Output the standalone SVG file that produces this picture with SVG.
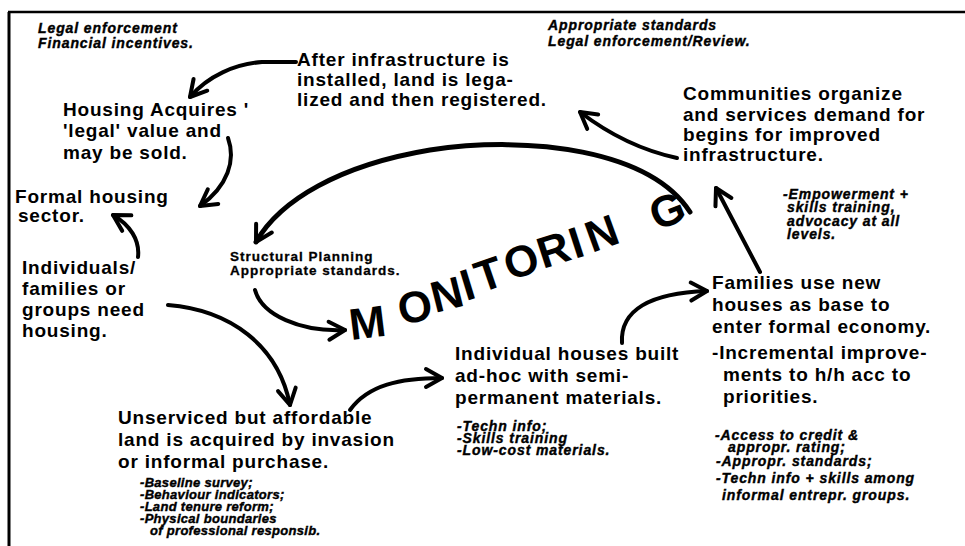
<svg xmlns="http://www.w3.org/2000/svg" width="965" height="546" viewBox="0 0 965 546">
<style>
.m{font-family:"Liberation Sans",Arial,sans-serif;font-weight:bold;font-size:19px;letter-spacing:0.8px;fill:#000}
.s{font-family:"Liberation Sans",Arial,sans-serif;font-weight:bold;font-style:italic;font-size:14px;letter-spacing:0.9px;fill:#000;stroke:#000;stroke-width:0.4}
.t{font-family:"Liberation Sans",Arial,sans-serif;font-weight:bold;font-style:italic;font-size:13px;letter-spacing:0.3px;fill:#000;stroke:#000;stroke-width:0.4}
.p{font-family:"Liberation Sans",Arial,sans-serif;font-weight:bold;font-size:13.5px;letter-spacing:1px;fill:#000;stroke:#000;stroke-width:0.3}
.big{font-family:"Liberation Sans",Arial,sans-serif;font-weight:bold;font-size:44px;fill:#000}
.c{fill:none;stroke:#000;stroke-width:4;stroke-linecap:round}
</style>
<defs>
<marker id="ah" viewBox="0 0 24 24" refX="20" refY="12" markerWidth="24" markerHeight="24" markerUnits="userSpaceOnUse" orient="auto">
<path d="M4,3 L20,12 L4,21" fill="none" stroke="#000" stroke-width="4" stroke-linecap="round" stroke-linejoin="round"/>
</marker>
</defs>
<rect width="965" height="546" fill="#fff"/>
<g id="frame">
<path d="M8,12 L965,12" stroke="#000" stroke-width="2.5"/>
<path d="M9,12 L9,546" stroke="#000" stroke-width="3"/>
</g>
<g id="connectors">
<path class="c" d="M296,62 L262,62 C235,64 208,76 190,97" marker-end="url(#ah)"/>
<path class="c" d="M228,138 C236,160 228,186 200,206" marker-end="url(#ah)"/>
<path class="c" d="M138,257 C140,240 130,225 113,215" marker-end="url(#ah)"/>
<path class="c" d="M168,305 C230,310 278,345 290,405" marker-end="url(#ah)"/>
<path class="c" d="M350,410 C368,385 400,378 442,378" marker-end="url(#ah)"/>
<path class="c" d="M622,343 C620,310 650,293 707,291" marker-end="url(#ah)"/>
<path class="c" d="M760,272 L716,188" marker-end="url(#ah)"/>
<path class="c" d="M677,158 C640,150 610,135 580,112" marker-end="url(#ah)"/>
<path class="c" style="stroke-width:5" d="M690,212 C650,150 530,135 430,150 C340,165 280,200 256,242" marker-end="url(#ah)"/>
<path class="c" d="M255,290 C262,315 300,332 345,330" marker-end="url(#ah)"/>
</g>
<g id="monitoring">
<text class="big" transform="translate(351,340) rotate(-7)">M</text>
<text class="big" transform="translate(401,325) rotate(-11)">O</text>
<text class="big" transform="translate(435,313) rotate(-14)">N</text>
<text class="big" transform="translate(466,301) rotate(-17)">I</text>
<text class="big" transform="translate(481,293) rotate(-19)">T</text>
<text class="big" transform="translate(510,281) rotate(-19)">O</text>
<text class="big" transform="translate(543,269) rotate(-18)">R</text>
<text class="big" transform="translate(575,259) rotate(-18)">I</text>
<text class="big" transform="translate(592,253) rotate(-20)">N</text>
<text class="big" transform="translate(657,231) rotate(-22)">G</text>
</g>
<g id="note-topleft">
<text class="s" x="38" y="33">Legal enforcement</text>
<text class="s" x="38" y="48">Financial incentives.</text>
</g>
<g id="note-topright">
<text class="s" x="548" y="30">Appropriate standards</text>
<text class="s" x="548" y="46">Legal enforcement/Review.</text>
</g>
<g id="node-after">
<text class="m" x="297" y="66">After infrastructure is</text>
<text class="m" x="297" y="86">installed, land is lega-</text>
<text class="m" x="297" y="106">lized and then registered.</text>
</g>
<g id="node-housing">
<text class="m" x="63" y="116">Housing Acquires '</text>
<text class="m" x="63" y="137">'legal' value and</text>
<text class="m" x="63" y="159">may be sold.</text>
</g>
<g id="node-formal">
<text class="m" x="15" y="203">Formal housing</text>
<text class="m" x="18" y="222">sector.</text>
</g>
<g id="node-individuals">
<text class="m" x="22" y="274">Individuals/</text>
<text class="m" x="22" y="295">families or</text>
<text class="m" x="22" y="316">groups need</text>
<text class="m" x="22" y="337">housing.</text>
</g>
<g id="node-communities">
<text class="m" x="683" y="100">Communities organize</text>
<text class="m" x="683" y="121">and services demand for</text>
<text class="m" x="683" y="141">begins for improved</text>
<text class="m" x="683" y="161">infrastructure.</text>
</g>
<g id="note-empowerment">
<text class="s" x="783" y="199">-Empowerment +</text>
<text class="s" x="787" y="212">skills training,</text>
<text class="s" x="787" y="226">advocacy at all</text>
<text class="s" x="787" y="239">levels.</text>
</g>
<g id="note-structural">
<text class="p" x="230" y="261">Structural Planning</text>
<text class="p" x="230" y="275">Appropriate standards.</text>
</g>
<g id="node-families">
<text class="m" x="712" y="289">Families use new</text>
<text class="m" x="712" y="311">houses as base to</text>
<text class="m" x="712" y="333">enter formal economy.</text>
<text class="m" x="712" y="359">-Incremental improve-</text>
<text class="m" x="723" y="381">ments to h/h acc to</text>
<text class="m" x="723" y="403">priorities.</text>
</g>
<g id="node-individual-houses">
<text class="m" x="455" y="360">Individual houses built</text>
<text class="m" x="455" y="382">ad-hoc with semi-</text>
<text class="m" x="455" y="404">permanent materials.</text>
</g>
<g id="note-techn">
<text class="s" x="457" y="431">-Techn info;</text>
<text class="s" x="457" y="443">-Skills training</text>
<text class="s" x="457" y="455">-Low-cost materials.</text>
</g>
<g id="note-access">
<text class="s" x="715" y="440">-Access to credit &amp;</text>
<text class="s" x="728" y="452">appropr. rating;</text>
<text class="s" x="716" y="466">-Appropr. standards;</text>
<text class="s" x="716" y="483">-Techn info + skills among</text>
<text class="s" x="722" y="500">informal entrepr. groups.</text>
</g>
<g id="node-unserviced">
<text class="m" x="118" y="424">Unserviced but affordable</text>
<text class="m" x="118" y="446">land is acquired by invasion</text>
<text class="m" x="118" y="468">or informal purchase.</text>
</g>
<g id="note-baseline">
<text class="t" x="140" y="487">-Baseline survey;</text>
<text class="t" x="140" y="499">-Behaviour indicators;</text>
<text class="t" x="140" y="511">-Land tenure reform;</text>
<text class="t" x="140" y="523">-Physical boundaries</text>
<text class="t" x="150" y="535">of professional responsib.</text>
</g>
</svg>
